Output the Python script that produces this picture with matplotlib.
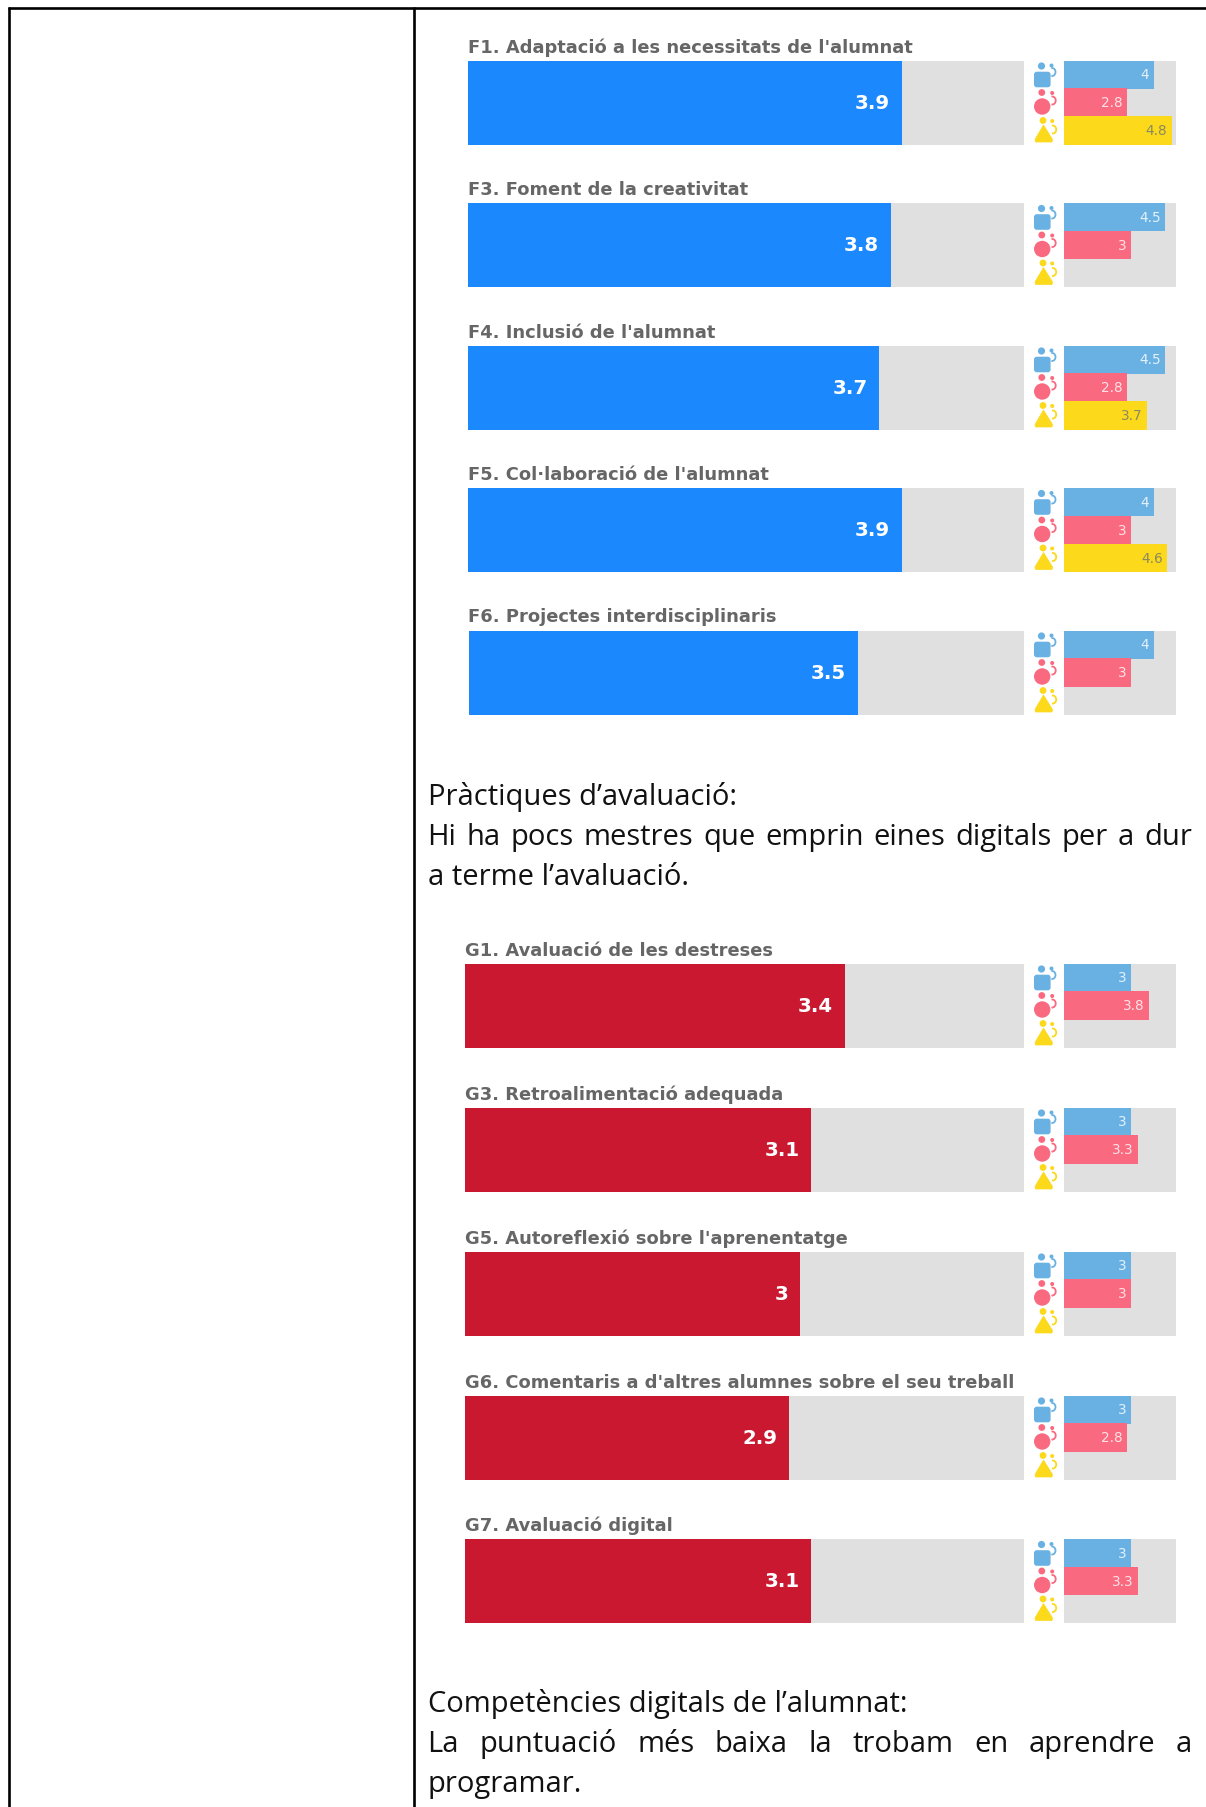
import matplotlib
matplotlib.use("Agg")
import matplotlib.pyplot as plt
from matplotlib.patches import Arc, Circle, FancyBboxPatch, Polygon

W, H = 1206, 1807

# -------------------------------
# Data
# -------------------------------
f_labels = [
    "F1. Adaptació a les necessitats de l'alumnat",
    "F3. Foment de la creativitat",
    "F4. Inclusió de l'alumnat",
    "F5. Col·laboració de l'alumnat",
    "F6. Projectes interdisciplinaris",
]
f_values = [3.9, 3.8, 3.7, 3.9, 3.5]
f_blue = [4, 4.5, 4.5, 4, 4]
f_pink = [2.8, 3, 2.8, 3, 3]
f_yellow = [4.8, None, 3.7, 4.6, None]
f_tops = [60.5, 203, 345.5, 488, 630.5]
f_lefts = [468, 468, 468, 468, 469]

g_labels = [
    "G1. Avaluació de les destreses",
    "G3. Retroalimentació adequada",
    "G5. Autoreflexió sobre l'aprenentatge",
    "G6. Comentaris a d'altres alumnes sobre el seu treball",
    "G7. Avaluació digital",
]
g_values = [3.4, 3.1, 3, 2.9, 3.1]
g_blue = [3, 3, 3, 3, 3]
g_pink = [3.8, 3.3, 3, 2.8, 3.3]
g_yellow = [None, None, None, None, None]
g_tops = [963.5, 1107.5, 1251.5, 1395.5, 1539]
g_lefts = [464.5, 464.5, 464.5, 464.5, 464.5]

COL_BLUE = "#1C88FE"
COL_RED = "#C91830"
COL_TRACK = "#E0E0E0"
COL_SMALL = ["#6AB1E3", "#F9697F", "#FCD91A"]
COL_SMALL_TEXT = ["#E4F0FA", "#FDE3E7", "#8A8A60"]

plt.rcParams["font.family"] = "DejaVu Sans"

fig = plt.figure(figsize=(W / 100, H / 100), dpi=100, facecolor="white")

# full page axes in pixels, for table rules, text and the little icons
page = fig.add_axes([0, 0, 1, 1])
page.set_xlim(0, W)
page.set_ylim(H, 0)
page.axis("off")


def px_axes(x0, y0, x1, y1):
    ax = fig.add_axes([x0 / W, 1 - y1 / H, (x1 - x0) / W, (y1 - y0) / H])
    ax.axis("off")
    return ax


def draw_icons(top):
    c = COL_SMALL
    # teacher 1, square body
    page.add_patch(Circle((1041.5, top + 5.5), 3.6, color=c[0], lw=0))
    page.add_patch(FancyBboxPatch((1036.8, top + 14), 11, 10, boxstyle="round,pad=2.8",
                                  color=c[0], lw=0))
    page.add_patch(Circle((1051.5, top + 5), 2, color=c[0], lw=0))
    page.add_patch(Arc((1052, top + 11.5), 7, 8, theta1=-100, theta2=100, color=c[0], lw=1.3))
    # teacher 2, round body
    page.add_patch(Circle((1041.8, top + 32), 3.4, color=c[1], lw=0))
    page.add_patch(Circle((1042.2, top + 46), 8.2, color=c[1], lw=0))
    page.add_patch(Circle((1052.2, top + 32.5), 2, color=c[1], lw=0))
    page.add_patch(Arc((1052.2, top + 40), 7, 8, theta1=-100, theta2=100, color=c[1], lw=1.3))
    # teacher 3, triangle body
    page.add_patch(Circle((1043, top + 60), 3.4, color=c[2], lw=0))
    page.add_patch(Polygon([(1043.5, top + 64.5), (1052.5, top + 79), (1052, top + 81.5),
                            (1035.5, top + 81.5), (1035, top + 79)], closed=True, color=c[2], lw=0.5))
    page.add_patch(Circle((1052.2, top + 60.5), 2, color=c[2], lw=0))
    page.add_patch(Arc((1052.7, top + 69), 7, 8, theta1=-100, theta2=100, color=c[2], lw=1.3))


def draw_chart(label, value, blue, pink, yellow, top, left, color, label_x):
    bottom = top + 84

    page.text(label_x, top - 8, label, fontsize=12.85, fontweight="bold", color="#666666",
              ha="left", va="baseline")

    ax = px_axes(left, top, 1024, bottom)
    ax.set_xlim(0, 5)
    ax.set_ylim(0, 1)
    ax.barh(0.5, 5, height=1, color=COL_TRACK)
    ax.barh(0.5, value, height=1, color=color)
    ax.annotate(f"{value:g}", (value, 0.5), xytext=(-8.5, -0.6), textcoords="offset points",
                ha="right", va="center", color="white", fontsize=14.2, fontweight="bold")

    draw_icons(top)

    small = px_axes(1064, top, 1176, bottom)
    small.set_xlim(0, 5)
    small.set_ylim(2.5, -0.5)
    small.barh(1, 5, height=3, color=COL_TRACK)
    for i, v in enumerate([blue, pink, yellow]):
        if v is None:
            continue
        small.barh(i, v, height=1.02, color=COL_SMALL[i])
        small.annotate(f"{v:g}", (v, i), xytext=(-3, -0.6), textcoords="offset points",
                       ha="right", va="center", color=COL_SMALL_TEXT[i], fontsize=9.8)


def draw_line(words, y, justify=False):
    """Body text line; justified lines spread their words from 428 to 1192 px."""
    body = dict(fontsize=21, family="Open Sans", color="#111111", ha="left", va="baseline")
    if not justify:
        page.text(427.5, y, " ".join(words), **body)
        return
    renderer = fig.canvas.get_renderer()
    inv = page.transData.inverted()
    items = [page.text(0, y, w, **body) for w in words]
    widths = []
    for t in items:
        bb = t.get_window_extent(renderer)
        widths.append(inv.transform((bb.x1, 0))[0] - inv.transform((bb.x0, 0))[0])
    gap = (1192 - 427.5 - sum(widths)) / (len(words) - 1)
    x = 427.5
    for t, w in zip(items, widths):
        t.set_x(x)
        x += w + gap


# table rules
page.plot([8, W], [8.3, 8.3], color="black", lw=1.9, solid_capstyle="butt")
page.plot([8.7, 8.7], [7.3, H], color="black", lw=1.9, solid_capstyle="butt")
page.plot([414, 414], [7.3, H], color="black", lw=1.9, solid_capstyle="butt")

for i in range(len(f_labels)):
    draw_chart(f_labels[i], f_values[i], f_blue[i], f_pink[i], f_yellow[i],
               f_tops[i], f_lefts[i], COL_BLUE, 468.5)

for i in range(len(g_labels)):
    draw_chart(g_labels[i], g_values[i], g_blue[i], g_pink[i], g_yellow[i],
               g_tops[i], g_lefts[i], COL_RED, 465)

draw_line(["Pràctiques", "d’avaluació:"], 804.5)
draw_line("Hi ha pocs mestres que emprin eines digitals per a dur".split(), 844.5, justify=True)
draw_line("a terme l’avaluació.".split(), 884.5)
draw_line("Competències digitals de l’alumnat:".split(), 1712)
draw_line("La puntuació més baixa la trobam en aprendre a".split(), 1752, justify=True)
draw_line(["programar."], 1792)

fig.savefig("out.png", dpi=100)
